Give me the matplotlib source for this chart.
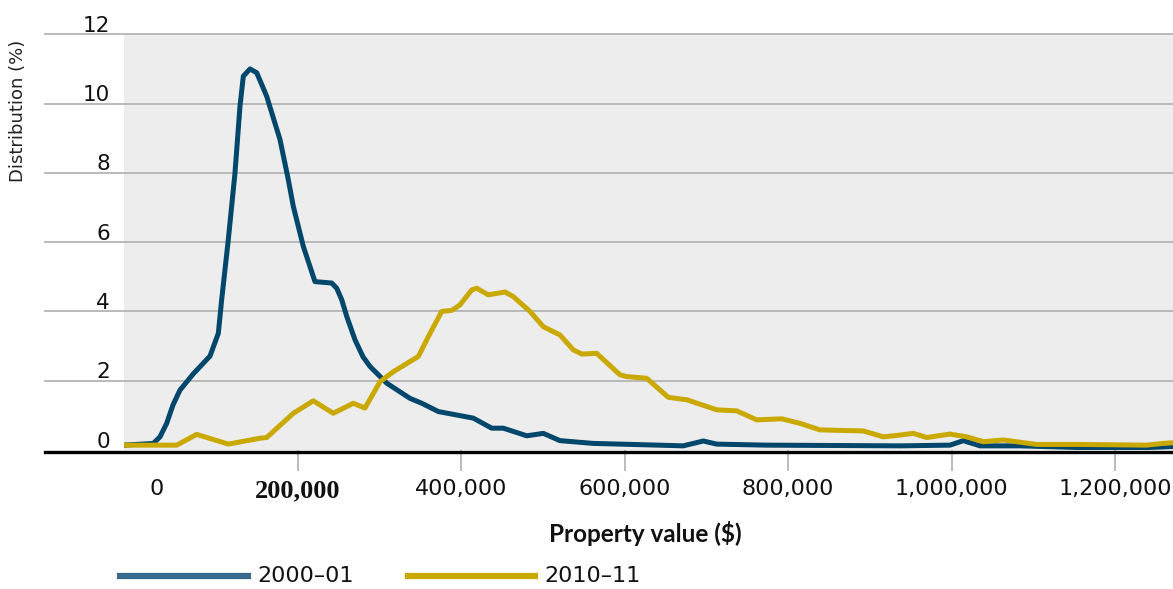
import matplotlib
matplotlib.use("Agg")
import matplotlib.pyplot as plt
from matplotlib.lines import Line2D

# ---- data (property value in $, distribution in %) ----
x_2000 = [-12900, 23000, 31200, 39400, 47100, 55700, 72000, 92400, 102600, 106700,
          114800, 123000, 129100, 133200, 141400, 149600, 161800, 178100, 188300,
          194400, 206600, 220900, 241400, 247500, 253600, 260000, 269900, 279700,
          288300, 308700, 337200, 351500, 371900, 414700, 437200, 451400, 480100,
          500400, 520800, 561600, 594200, 671700, 696200, 712600, 773800, 937000,
          998200, 1014400, 1034900, 1083900, 1157300, 1238900, 1271000]
y_2000 = [0.14, 0.19, 0.38, 0.77, 1.30, 1.73, 2.20, 2.71, 3.37, 4.34,
          6.07, 8.00, 9.92, 10.79, 11.00, 10.89, 10.21, 8.96, 7.80,
          7.03, 5.88, 4.86, 4.82, 4.67, 4.34, 3.84, 3.18, 2.69,
          2.41, 1.93, 1.49, 1.35, 1.11, 0.92, 0.63, 0.63, 0.41,
          0.48, 0.27, 0.19, 0.17, 0.12, 0.26, 0.17, 0.14, 0.12,
          0.14, 0.27, 0.12, 0.12, 0.07, 0.07, 0.10]

x_2010 = [-12900, 51700, 76100, 114800, 153600, 161800, 194400, 218900, 243300,
          267800, 282000, 300500, 316800, 347400, 359600, 376000, 388300, 398400,
          412700, 418900, 433000, 453500, 463600, 484100, 500400, 520800, 537100,
          547400, 565700, 594200, 602400, 626900, 653400, 675900, 712600, 737100,
          761600, 792200, 814600, 839000, 892000, 916500, 933000, 953300, 969700,
          998200, 1018600, 1038900, 1063400, 1104300, 1157300, 1238900, 1259200,
          1271000]
y_2010 = [0.14, 0.14, 0.45, 0.17, 0.34, 0.36, 1.06, 1.42, 1.06,
          1.35, 1.21, 1.97, 2.26, 2.70, 3.27, 4.00, 4.03, 4.19,
          4.62, 4.67, 4.48, 4.56, 4.43, 4.00, 3.56, 3.32, 2.89,
          2.77, 2.79, 2.17, 2.12, 2.07, 1.52, 1.45, 1.16, 1.13,
          0.87, 0.90, 0.77, 0.58, 0.55, 0.38, 0.42, 0.48, 0.36,
          0.46, 0.38, 0.24, 0.29, 0.16, 0.16, 0.14, 0.19, 0.21]

series_labels = ["2000\u201301", "2010\u201311"]
x_ticks = [200000, 400000, 600000, 800000, 1000000, 1200000]
x_tick_labels = ["200,000", "400,000", "600,000", "800,000", "1,000,000", "1,200,000"]
zero_label_pos = 27500
y_ticks = [0, 2, 4, 6, 8, 10, 12]

BLUE = "#00476B"
GOLD = "#C9A800"
BLUE_LEG = "#386B8B"

FONT = ["DejaVu Sans"]

W, H = 1173, 589
fig = plt.figure(figsize=(W / 100, H / 100), dpi=100)
ax_left, ax_right = 124 / W, 1.0
ax_top, ax_bottom = 1 - 34.3 / H, 1 - 450 / H
ax = fig.add_axes([ax_left, ax_bottom, ax_right - ax_left, ax_top - ax_bottom])
ax.set_facecolor("#EDEDED")
ax.set_xlim(-12850, 1271100)
ax.set_ylim(0, 12)
for s in ax.spines.values():
    s.set_visible(False)

ext = (45 - 124) / (W - 124)
ytr = ax.get_yaxis_transform()
for yv in y_ticks[1:]:
    ax.add_line(Line2D([ext, 1], [yv, yv], transform=ytr, color="#B4B4B4",
                       lw=1.3, clip_on=False, zorder=1))

for yv in y_ticks:
    ax.text((110 - 124) / (W - 124), yv + 0.07, str(yv), transform=ytr,
            ha="right", va="baseline", fontsize=15.5, family=FONT, color="#111111")

ax.plot(x_2000, y_2000, color=BLUE, lw=3.6, solid_joinstyle="round",
        solid_capstyle="round", zorder=3)
ax.plot(x_2010, y_2010, color=GOLD, lw=3.6, solid_joinstyle="round",
        solid_capstyle="round", zorder=3)

ax.add_line(Line2D([ext, 1], [-0.05, -0.05], transform=ytr, color="black",
                   lw=2.4, clip_on=False, zorder=4))

ax.set_yticks([])
ax.set_xticks(x_ticks, labels=x_tick_labels)
ax.tick_params(axis="x", which="major", length=15, width=1.1, color="#AAAAAA",
               pad=6, labelsize=16)
for lab in ax.get_xticklabels():
    lab.set_family(FONT)
    lab.set_color("#111111")
ax.get_xticklabels()[0].set_family(["Liberation Serif", "DejaVu Serif"])
ax.get_xticklabels()[0].set_fontweight("bold")
ax.get_xticklabels()[0].set_fontsize(19)
ax.set_xticks([zero_label_pos], labels=["0"], minor=True)
ax.tick_params(axis="x", which="minor", length=0, pad=21, labelsize=16)
for lab in ax.get_xticklabels(minor=True):
    lab.set_family(FONT)
    lab.set_color("#111111")

fig.text(645 / W, 1 - 533 / H, "Property value ($)", ha="center", va="center",
         fontsize=17.5, fontweight="bold",
         family=["Liberation Sans Narrow", "Lato", "DejaVu Sans"], color="#111111")
fig.text(18 / W, 1 - 111 / H, "Distribution (%)", rotation=90, ha="center",
         va="center", fontsize=13, family=FONT, color="#222222")

# legend
ly = 1 - 576 / H
fig.add_artist(Line2D([120 / W, 248 / W], [ly, ly], color=BLUE_LEG, lw=4.5,
                      transform=fig.transFigure))
fig.text(257 / W, ly, series_labels[0], ha="left", va="center", fontsize=16,
         family=FONT, color="#111111")
fig.add_artist(Line2D([408 / W, 535 / W], [ly, ly], color=GOLD, lw=4.5,
                      transform=fig.transFigure))
fig.text(544 / W, ly, series_labels[1], ha="left", va="center", fontsize=16,
         family=FONT, color="#111111")

fig.savefig("out.png", dpi=100)
